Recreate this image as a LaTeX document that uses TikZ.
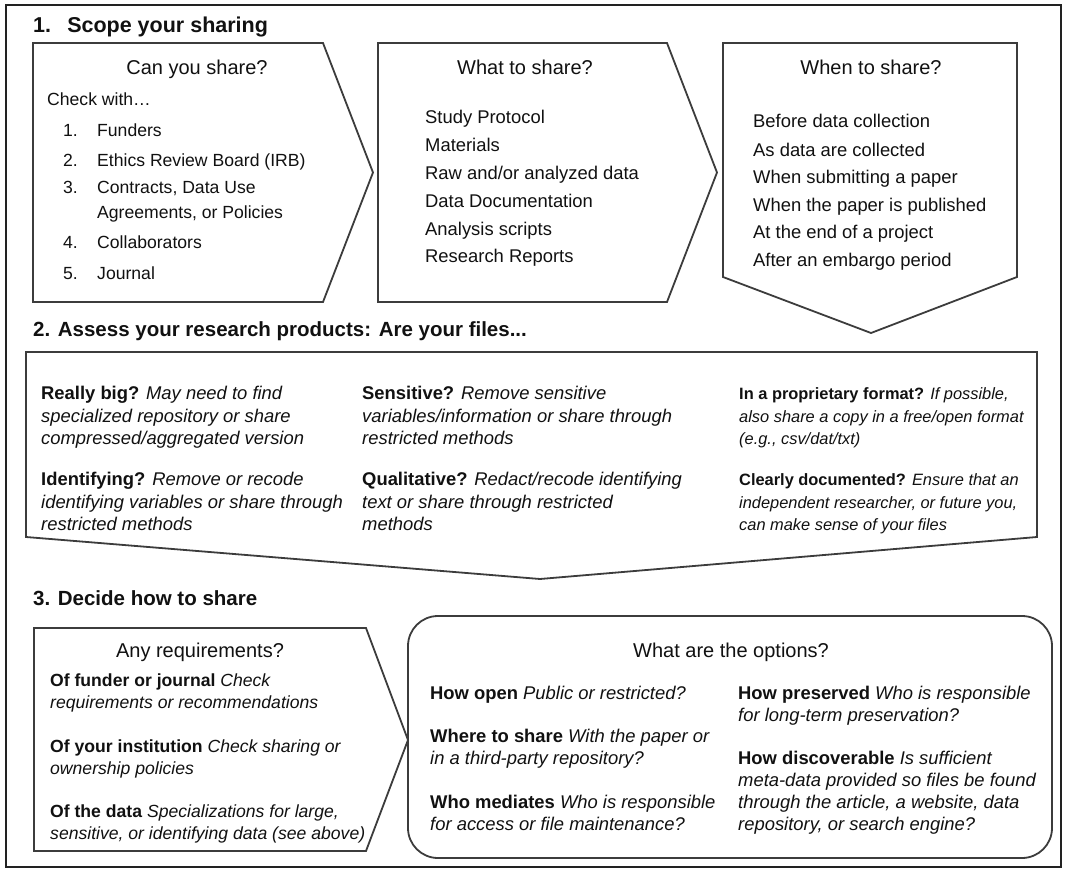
\documentclass[tikz,border=0pt]{standalone}
\usepackage{fontspec}
\setmainfont{Liberation Sans}
\definecolor{bordercol}{HTML}{3C3C3C}
\definecolor{framecol}{HTML}{222222}
\definecolor{txtcol}{HTML}{111111}
\begin{document}
\begin{tikzpicture}[x=1pt,y=-1pt,
  shp/.style={draw=bordercol, line width=1.8pt, line join=miter, fill=white},
  txt/.style={anchor=base west, inner sep=0pt, text=txtcol, font=\fontsize{17.6}{21}\selectfont},
  txtb/.style={anchor=base west, inner sep=0pt, text=txtcol, font=\fontsize{18.4}{22}\selectfont},
  txts/.style={anchor=base west, inner sep=0pt, text=txtcol, font=\fontsize{16.4}{20}\selectfont},
  hd/.style={anchor=base, inner sep=0pt, text=txtcol, font=\fontsize{20}{24}\selectfont},
  sec/.style={anchor=base west, inner sep=0pt, text=txtcol, font=\fontsize{20.5}{24}\selectfont\bfseries}]
\path[use as bounding box] (0,0) rectangle (1069,875);
\draw[draw=framecol, line width=1.5pt] (6,5) rectangle (1061,867);

% ---------- Section 1 ----------
\node[sec, font=\fontsize{21.5}{25}\selectfont\bfseries] (t1) at (33,33) {1.\hspace{0.75em}Scope your sharing};
\draw[shp] (33,43) -- (323,43) -- (373,172.5) -- (323,302) -- (33,302) -- cycle;
\draw[shp] (378,43) -- (667,43) -- (717,172.5) -- (667,302) -- (378,302) -- cycle;
\draw[shp] (723,43) -- (1017,43) -- (1017,277) -- (871,333) -- (723,277) -- cycle;

\node[hd] (h1) at (197,75) {Can you share?};
\node[hd] (h2) at (525,75) {What to share?};
\node[hd] (h3) at (871,75) {When to share?};

\node[txt] (cw) at (47,106) {Check with…};
\node[txt] (n1) at (63,136) {1.};  \node[txt] (c1) at (97,136) {Funders};
\node[txt] (n2) at (63,166) {2.};  \node[txt] (c2) at (97,166) {Ethics Review Board (IRB)};
\node[txt] (n3) at (63,193) {3.};  \node[txt] (c3) at (97,193) {Contracts, Data Use};
\node[txt] (c3b) at (97,218) {Agreements, or Policies};
\node[txt] (n4) at (63,248) {4.};  \node[txt] (c4) at (97,248) {Collaborators};
\node[txt] (n5) at (63,279) {5.};  \node[txt] (c5) at (97,279) {Journal};

\node[txtb] (w1) at (425,124) {Study Protocol};
\node[txtb] (w2) at (425,151) {Materials};
\node[txtb] (w3) at (425,179) {Raw and/or analyzed data};
\node[txtb] (w4) at (425,207) {Data Documentation};
\node[txtb] (w5) at (425,235) {Analysis scripts};
\node[txtb] (w6) at (425,262) {Research Reports};

\node[txtb] (e1) at (753,128) {Before data collection};
\node[txtb] (e2) at (753,156) {As data are collected};
\node[txtb] (e3) at (753,183) {When submitting a paper};
\node[txtb] (e4) at (753,211) {When the paper is published};
\node[txtb] (e5) at (753,238) {At the end of a project};
\node[txtb] (e6) at (753,266) {After an embargo period};

% ---------- Section 2 ----------
\node[sec] (t2) at (33,336) {2. Assess your research products: Are your files...};
\draw[shp] (26,352) -- (1037,352) -- (1037,537) -- (540,579) -- (26,537) -- cycle;

\node[txtb] (a1) at (41,399) {\textbf{Really big?} \textit{May need to find}};
\node[txtb] (a2) at (41,422) {\textit{specialized repository or share}};
\node[txtb] (a3) at (41,444) {\textit{compressed/aggregated version}};
\node[txtb] (a4) at (41,485) {\textbf{Identifying?} \textit{Remove or recode}};
\node[txtb] (a5) at (41,508) {\textit{identifying variables or share through}};
\node[txtb] (a6) at (41,530) {\textit{restricted methods}};

\node[txtb] (b1) at (362,399) {\textbf{Sensitive?} \textit{Remove sensitive}};
\node[txtb] (b2) at (362,422) {\textit{variables/information or share through}};
\node[txtb] (b3) at (362,444) {\textit{restricted methods}};
\node[txtb] (b4) at (362,485) {\textbf{Qualitative?} \textit{Redact/recode identifying}};
\node[txtb] (b5) at (362,508) {\textit{text or share through restricted}};
\node[txtb] (b6) at (362,530) {\textit{methods}};

\node[txts] (p1) at (739,399) {\textbf{In a proprietary format?} \textit{If possible,}};
\node[txts] (p2) at (739,422) {\textit{also share a copy in a free/open format}};
\node[txts] (p3) at (739,444) {\textit{(e.g., csv/dat/txt)}};
\node[txts] (p4) at (739,485) {\textbf{Clearly documented?} \textit{Ensure that an}};
\node[txts] (p5) at (739,508) {\textit{independent researcher, or future you,}};
\node[txts] (p6) at (739,530) {\textit{can make sense of your files}};

% ---------- Section 3 ----------
\node[sec] (t3) at (33,605) {3. Decide how to share};
\draw[shp] (34,628) -- (366,628) -- (408,740) -- (366,851) -- (34,851) -- cycle;
\draw[shp, rounded corners=30pt] (408,616) rectangle (1052,858);

\node[hd] (h4) at (200,657) {Any requirements?};
\node[txt] (r1) at (50,686) {\textbf{Of funder or journal} \textit{Check}};
\node[txt] (r2) at (50,708) {\textit{requirements or recommendations}};
\node[txt] (r3) at (50,752) {\textbf{Of your institution} \textit{Check sharing or}};
\node[txt] (r4) at (50,774) {\textit{ownership policies}};
\node[txt] (r5) at (50,817) {\textbf{Of the data} \textit{Specializations for large,}};
\node[txt] (r6) at (50,839) {\textit{sensitive, or identifying data (see above)}};

\node[hd] (h5) at (731,657) {What are the options?};
\node[txtb] (o1) at (430,699) {\textbf{How open} \textit{Public or restricted?}};
\node[txtb] (o2) at (430,742) {\textbf{Where to share} \textit{With the paper or}};
\node[txtb] (o3) at (430,764) {\textit{in a third-party repository?}};
\node[txtb] (o4) at (430,808) {\textbf{Who mediates} \textit{Who is responsible}};
\node[txtb] (o5) at (430,830) {\textit{for access or file maintenance?}};
\node[txtb] (q1) at (738,699) {\textbf{How preserved} \textit{Who is responsible}};
\node[txtb] (q2) at (738,721) {\textit{for long-term preservation?}};
\node[txtb] (q3) at (738,764) {\textbf{How discoverable} \textit{Is sufficient}};
\node[txtb] (q4) at (738,786) {\textit{meta-data provided so files be found}};
\node[txtb] (q5) at (738,808) {\textit{through the article, a website, data}};
\node[txtb] (q6) at (738,830) {\textit{repository, or search engine?}};
\end{tikzpicture}
\end{document}
